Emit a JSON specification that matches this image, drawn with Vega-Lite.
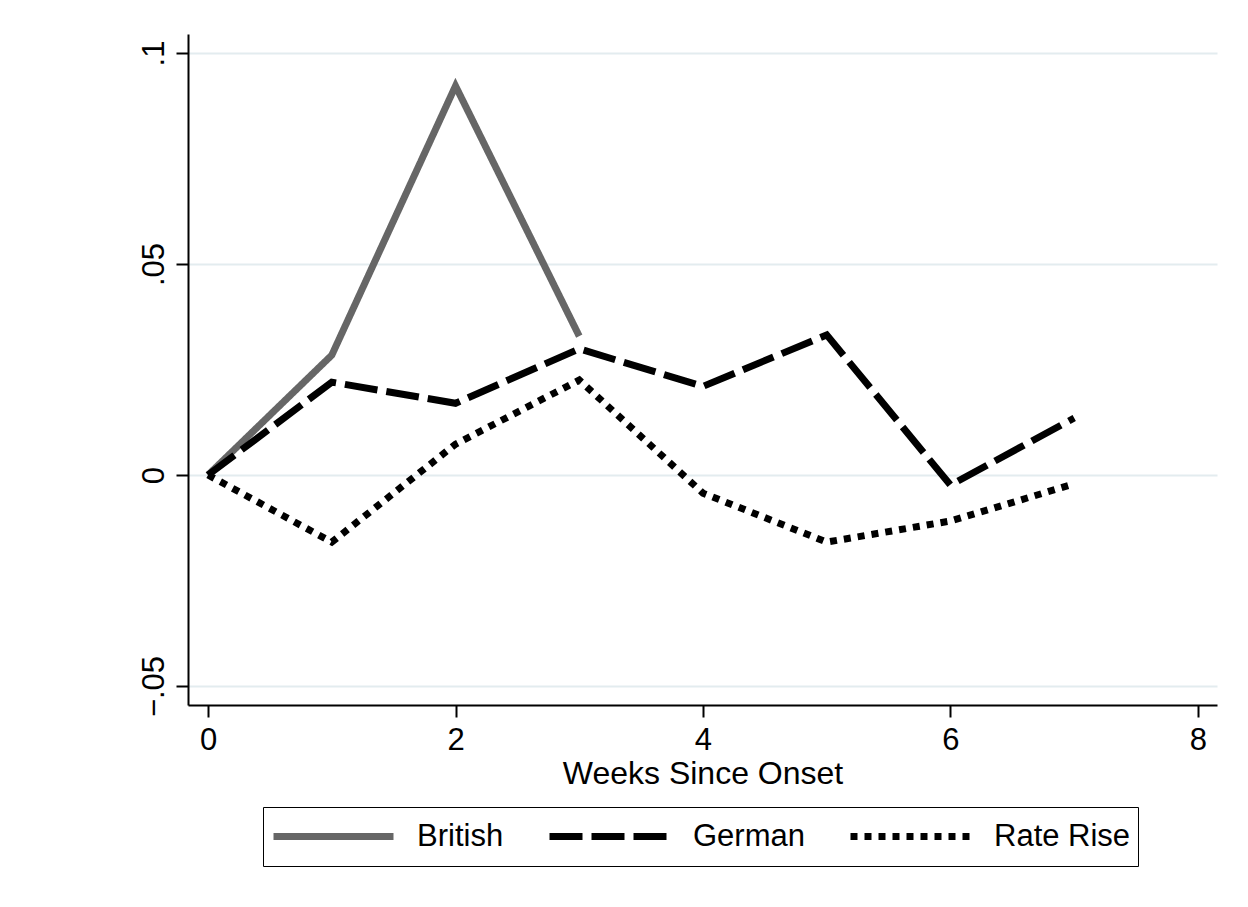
{
  "$schema": "https://vega.github.io/schema/vega-lite/v6.json",
  "autosize": {"type": "none"},
  "width": 1029,
  "height": 671,
  "padding": {"left": 188, "top": 34, "right": 31, "bottom": 202},
  "background": "white",
  "config": {
    "font": "Liberation Sans",
    "view": {"stroke": null},
    "axis": {
      "labelFont": "Liberation Sans",
      "titleFont": "Liberation Sans",
      "labelFontSize": 31,
      "titleFontSize": 32,
      "titleFontWeight": "normal",
      "labelColor": "black",
      "titleColor": "black",
      "domainColor": "black",
      "domainWidth": 2,
      "tickColor": "black",
      "tickWidth": 2,
      "tickSize": 12
    }
  },
  "data": {
    "values": [
      {"week": 0, "value": 0, "series": "British"},
      {"week": 1, "value": 0.0284, "series": "British"},
      {"week": 2, "value": 0.0922, "series": "British"},
      {"week": 3, "value": 0.0329, "series": "British"},
      {"week": 0, "value": 0, "series": "German"},
      {"week": 1, "value": 0.022, "series": "German"},
      {"week": 2, "value": 0.017, "series": "German"},
      {"week": 3, "value": 0.0299, "series": "German"},
      {"week": 4, "value": 0.021, "series": "German"},
      {"week": 5, "value": 0.0332, "series": "German"},
      {"week": 6, "value": -0.0024, "series": "German"},
      {"week": 7, "value": 0.0135, "series": "German"},
      {"week": 0, "value": 0, "series": "Rate Rise"},
      {"week": 1, "value": -0.0159, "series": "Rate Rise"},
      {"week": 2, "value": 0.0073, "series": "Rate Rise"},
      {"week": 3, "value": 0.0225, "series": "Rate Rise"},
      {"week": 4, "value": -0.0043, "series": "Rate Rise"},
      {"week": 5, "value": -0.0159, "series": "Rate Rise"},
      {"week": 6, "value": -0.0109, "series": "Rate Rise"},
      {"week": 7, "value": -0.0021, "series": "Rate Rise"}
    ]
  },
  "mark": {"type": "line", "strokeWidth": 7, "strokeCap": "butt", "strokeJoin": "miter"},
  "encoding": {
    "x": {
      "field": "week",
      "type": "quantitative",
      "scale": {"domain": [-0.162, 8.154], "nice": false, "zero": false},
      "axis": {
        "values": [0, 2, 4, 6, 8],
        "title": "Weeks Since Onset",
        "grid": false,
        "labelPadding": 8,
        "titlePadding": 3
      }
    },
    "y": {
      "field": "value",
      "type": "quantitative",
      "scale": {"domain": [-0.0545, 0.1045], "nice": false, "zero": false},
      "axis": {
        "values": [-0.05, 0, 0.05, 0.1],
        "title": null,
        "grid": true,
        "gridColor": "#e3ecef",
        "gridWidth": 2,
        "labelAngle": 270,
        "labelAlign": "center",
        "labelBaseline": "bottom",
        "labelPadding": 6,
        "labelExpr": "datum.value === 0 ? '0' : replace(format(datum.value, '.2~f'), '0.', '.')"
      }
    },
    "color": {
      "field": "series",
      "type": "nominal",
      "scale": {"domain": ["British", "German", "Rate Rise"], "range": ["#666666", "#000000", "#000000"]},
      "legend": {
        "title": null,
        "orient": "none",
        "legendX": 75,
        "legendY": 773,
        "direction": "horizontal",
        "strokeColor": "black",
        "padding": 7,
        "clipHeight": 45,
        "symbolType": "stroke",
        "symbolSize": 14400,
        "symbolStrokeWidth": 7,
        "labelFontSize": 31,
        "labelFont": "Liberation Sans",
        "labelColor": "black",
        "labelBaseline": "middle",
        "labelOffset": 20,
        "columnPadding": 42
      }
    },
    "strokeDash": {
      "field": "series",
      "type": "nominal",
      "scale": {"domain": ["British", "German", "Rate Rise"], "range": [[1, 0], [33, 9], [7, 7]]},
      "legend": null
    }
  }
}
